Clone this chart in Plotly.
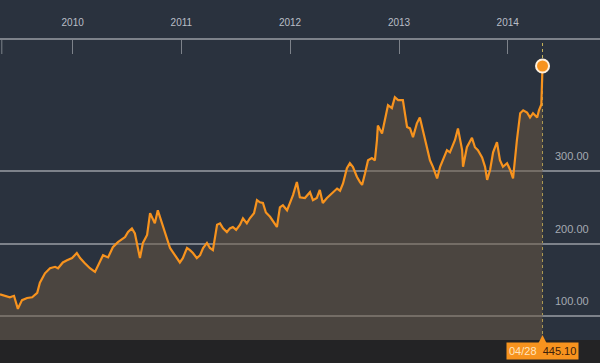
import plotly.graph_objects as go

dates = [
    "2009-05-02", "2009-05-19", "2009-06-04", "2009-06-18", "2009-07-01", "2009-07-15",
    "2009-08-01", "2009-08-18", "2009-09-04", "2009-09-13", "2009-09-30", "2009-10-17",
    "2009-11-03", "2009-11-13", "2009-11-29", "2009-12-13", "2009-12-30", "2010-01-15",
    "2010-01-26", "2010-02-11", "2010-02-28", "2010-03-17", "2010-04-03", "2010-04-13",
    "2010-04-30", "2010-05-16", "2010-06-02", "2010-06-26", "2010-07-06", "2010-07-19",
    "2010-07-29", "2010-08-08", "2010-08-15", "2010-08-25", "2010-09-08", "2010-09-18",
    "2010-10-04", "2010-10-14", "2010-10-28", "2010-11-07", "2010-11-24", "2010-12-04",
    "2010-12-17", "2010-12-27", "2011-01-06", "2011-01-20", "2011-01-30", "2011-02-09",
    "2011-02-22", "2011-03-05", "2011-03-15", "2011-03-28", "2011-04-07", "2011-04-17",
    "2011-05-01", "2011-05-11", "2011-05-21", "2011-06-03", "2011-06-13", "2011-06-23",
    "2011-07-04", "2011-07-17", "2011-07-27", "2011-08-09", "2011-08-19", "2011-09-02",
    "2011-09-12", "2011-09-22", "2011-10-02", "2011-10-12", "2011-10-26", "2011-11-08",
    "2011-11-18", "2011-11-28", "2011-12-08", "2011-12-22", "2012-01-01", "2012-01-11",
    "2012-01-24", "2012-02-03", "2012-02-20", "2012-03-08", "2012-03-18", "2012-03-31",
    "2012-04-10", "2012-04-20", "2012-05-04", "2012-05-24", "2012-06-07", "2012-06-17",
    "2012-06-27", "2012-07-10", "2012-07-20", "2012-07-30", "2012-08-13", "2012-08-23",
    "2012-08-30", "2012-09-09", "2012-09-19", "2012-10-02", "2012-10-12", "2012-10-19",
    "2012-10-22", "2012-11-05", "2012-11-15", "2012-11-25", "2012-12-08", "2012-12-18",
    "2012-12-29", "2013-01-14", "2013-01-28", "2013-02-07", "2013-02-17", "2013-03-02",
    "2013-03-12", "2013-03-22", "2013-04-05", "2013-04-15", "2013-04-25", "2013-05-09",
    "2013-05-19", "2013-05-29", "2013-06-11", "2013-06-21", "2013-07-08", "2013-07-18",
    "2013-08-01", "2013-08-04", "2013-08-17", "2013-09-03", "2013-09-13", "2013-09-23",
    "2013-10-07", "2013-10-17", "2013-10-24", "2013-11-03", "2013-11-13", "2013-11-26",
    "2013-12-06", "2013-12-16", "2013-12-30", "2014-01-09", "2014-01-19", "2014-02-01",
    "2014-02-12", "2014-02-22", "2014-03-07", "2014-03-17", "2014-03-27", "2014-04-10",
    "2014-04-16", "2014-04-24", "2014-04-28",
]
prices = [
    130, 128, 126, 128, 110, 122,
    125, 126, 132, 146, 159, 166,
    168, 166, 174, 177, 180, 187,
    180, 173, 166, 161, 177, 184,
    181, 195, 202, 209, 216, 221,
    214, 195, 180, 201, 212, 242,
    228, 246, 228, 216, 194, 188,
    180, 174, 180, 194, 191, 187,
    180, 184, 194, 201, 194, 191,
    226, 228, 221, 216, 221, 223,
    219, 226, 235, 228, 235, 242,
    260, 257, 256, 243, 237, 230,
    223, 250, 253, 246, 257, 267,
    285, 264, 263, 271, 260, 263,
    274, 256, 263, 271, 276, 273,
    283, 304, 311, 306, 292, 285,
    281, 297, 315, 318, 315, 343,
    363, 352, 370, 391, 387, 402,
    398, 398, 361, 359, 347, 366,
    374, 357, 333, 315, 306, 290,
    306, 315, 329, 326, 343, 359,
    329, 306, 333, 346, 333, 329,
    319, 306, 288, 302, 326, 340,
    315, 306, 311, 302, 290, 343,
    380, 384, 381, 374, 380, 374,
    384, 392, 445.10,
]

year_ticks = ["2010-01-01", "2011-01-01", "2012-01-01", "2013-01-01", "2014-01-01"]
year_labels = ["2010", "2011", "2012", "2013", "2014"]
y_ticks = [100, 200, 300]
y_labels = ["100.00", "200.00", "300.00"]
last_label = "04/28"

x_range = ["2009-05-02", "2014-11-07"]
y_range = [67, 481]

BG = "rgb(42,50,62)"
ORANGE = "rgb(247,147,30)"
GRID = "rgb(125,130,138)"
FONT = "Liberation Sans, Arial"

fig = go.Figure()
fig.add_trace(go.Scatter(
    x=dates, y=prices, mode="lines",
    line=dict(color=ORANGE, width=2.2),
    fill="tozeroy", fillcolor="rgba(108,88,66,0.5)",
    hoverinfo="skip", showlegend=False,
))
fig.add_trace(go.Scatter(
    x=[dates[-1]], y=[prices[-1]], mode="markers",
    marker=dict(size=13, color=ORANGE, line=dict(color="rgb(255,240,220)", width=2)),
    cliponaxis=False, hoverinfo="skip", showlegend=False,
))

shapes = [
    dict(type="rect", xref="paper", yref="paper", x0=0, x1=1, y0=-23 / 300, y1=0,
         fillcolor="rgb(35,35,37)", line=dict(width=0), layer="below"),
    dict(type="line", xref="x", yref="paper", x0=dates[-1], x1=dates[-1], y0=0, y1=1,
         line=dict(color="rgb(200,180,90)", width=1, dash="dot"), layer="below"),
    dict(type="line", xref="paper", yref="paper", x0=0.003, x1=0.003, y0=1, y1=1 - 14 / 300,
         line=dict(color=GRID, width=1)),
]

annotations = []
for v, t in zip(y_ticks, y_labels):
    annotations.append(dict(
        x=0.985, xref="paper", y=v, yref="y", text=t, showarrow=False,
        xanchor="right", yanchor="bottom", yshift=7,
        font=dict(family=FONT, size=11, color="rgb(165,170,178)"),
    ))
# pointer above the value box
annotations.append(dict(
    x=dates[-1], xref="x", y=5 / 300, yref="paper", text="",
    showarrow=True, arrowhead=2, arrowsize=1.5, arrowwidth=2, arrowcolor=ORANGE,
    ax=0, ay=10, standoff=0,
))
annotations.append(dict(
    x=dates[-1], xref="x", y=-11 / 300, yref="paper",
    text=f"<span style='color:rgb(255,228,190)'>{last_label}</span>  "
         f"<span style='color:rgb(60,32,10)'>{prices[-1]:.2f}</span>",
    showarrow=False, xanchor="center", yanchor="middle",
    bgcolor=ORANGE, borderpad=2,
    font=dict(family=FONT, size=11),
))

fig.update_layout(
    width=600, height=363,
    margin=dict(l=0, r=0, t=40, b=23),
    paper_bgcolor=BG, plot_bgcolor=BG,
    shapes=shapes, annotations=annotations,
    xaxis=dict(
        type="date", range=x_range, side="top",
        tickvals=year_ticks, ticktext=year_labels,
        ticks="inside", ticklen=14, tickwidth=1, tickcolor=GRID,
        ticklabelstandoff=8,
        showline=True, linecolor=GRID, linewidth=1.5,
        showgrid=False, zeroline=False,
        tickfont=dict(family=FONT, size=10, color="rgb(185,190,198)"),
    ),
    yaxis=dict(
        range=y_range, tickvals=y_ticks, showticklabels=False,
        showgrid=True, gridcolor=GRID, gridwidth=1.5, zeroline=False,
        showline=False, ticks="",
    ),
)

fig.write_html(
    "out.html",
    config={"displayModeBar": False},
    post_script="document.body.style.margin='0';document.body.style.overflow='hidden';",
)
